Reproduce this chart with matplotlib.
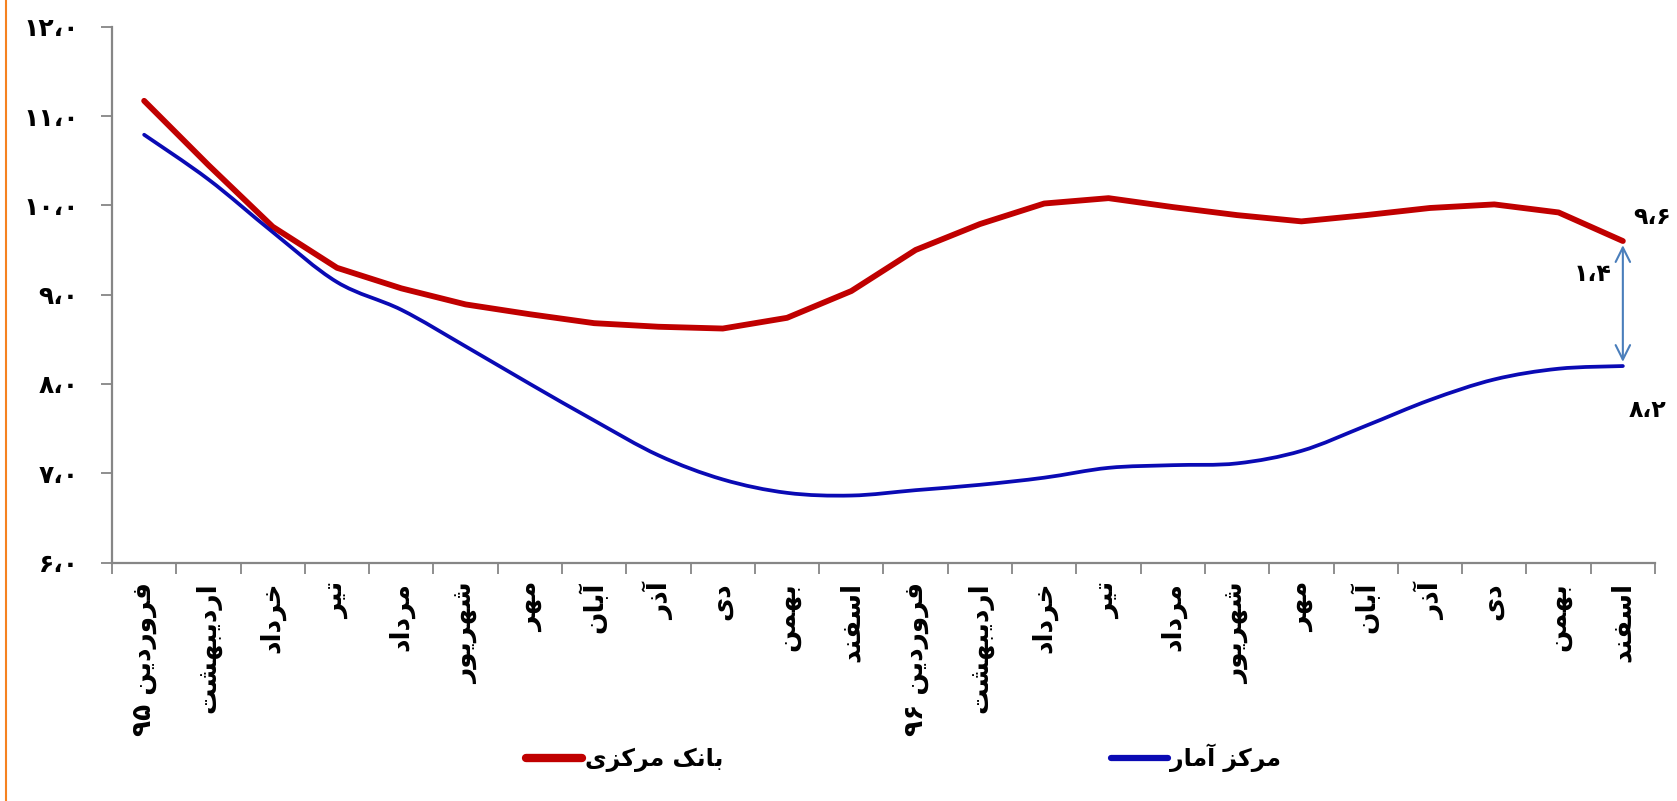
import re
import numpy as np
import matplotlib
matplotlib.use("Agg")
import matplotlib.pyplot as plt
from matplotlib.path import Path
from matplotlib.patches import PathPatch
from matplotlib.lines import Line2D

# data
months = ["فروردین ۹۵", "اردیبهشت", "خرداد", "تیر", "مرداد", "شهریور", "مهر",
          "آبان", "آذر", "دی", "بهمن", "اسفند",
          "فروردین ۹۶", "اردیبهشت", "خرداد", "تیر", "مرداد", "شهریور", "مهر",
          "آبان", "آذر", "دی", "بهمن", "اسفند"]
central_bank = [11.17, 10.45, 9.76, 9.30, 9.07, 8.89, 8.78, 8.68, 8.64, 8.62, 8.74, 9.04,
                9.50, 9.79, 10.02, 10.08, 9.98, 9.89, 9.82, 9.89, 9.97, 10.01, 9.92, 9.60]
stat_center = [10.79, 10.29, 9.70, 9.14, 8.83, 8.42, 8.00, 7.59, 7.20, 6.93, 6.78, 6.75,
               6.81, 6.87, 6.95, 7.06, 7.09, 7.11, 7.25, 7.53, 7.82, 8.05, 8.17, 8.20]
series_names = ["بانک مرکزی", "مرکز آمار"]
gap_label = "۱،۴"

# minimal arabic shaping (matplotlib has no complex text layout)
FORMS = {
    'ا': ('\uFE8D', '\uFE8E', None, None),
    'آ': ('\uFE81', '\uFE82', None, None),
    'ب': ('\uFE8F', '\uFE90', '\uFE91', '\uFE92'),
    'ت': ('\uFE95', '\uFE96', '\uFE97', '\uFE98'),
    'خ': ('\uFEA5', '\uFEA6', '\uFEA7', '\uFEA8'),
    'د': ('\uFEA9', '\uFEAA', None, None),
    'ذ': ('\uFEAB', '\uFEAC', None, None),
    'ر': ('\uFEAD', '\uFEAE', None, None),
    'ز': ('\uFEAF', '\uFEB0', None, None),
    'س': ('\uFEB1', '\uFEB2', '\uFEB3', '\uFEB4'),
    'ش': ('\uFEB5', '\uFEB6', '\uFEB7', '\uFEB8'),
    'ف': ('\uFED1', '\uFED2', '\uFED3', '\uFED4'),
    'م': ('\uFEE1', '\uFEE2', '\uFEE3', '\uFEE4'),
    'ن': ('\uFEE5', '\uFEE6', '\uFEE7', '\uFEE8'),
    'ه': ('\uFEE9', '\uFEEA', '\uFEEB', '\uFEEC'),
    'و': ('\uFEED', '\uFEEE', None, None),
    'ی': ('\uFBFC', '\uFBFD', '\uFBFE', '\uFBFF'),
    'ک': ('\uFB8E', '\uFB8F', '\uFB90', '\uFB91'),
}
DIGITS = '\u06F0-\u06F9\u060C'


def fa(s):
    out = []
    for i, c in enumerate(s):
        if c not in FORMS:
            out.append(c)
            continue
        prev = s[i - 1] if i > 0 else None
        nxt = s[i + 1] if i < len(s) - 1 else None
        jp = prev in FORMS and FORMS[prev][2] is not None
        jn = nxt in FORMS and FORMS[c][2] is not None
        iso, fin, ini, med = FORMS[c]
        out.append(med if jp and jn else fin if jp else ini if jn else iso)
    tokens = re.findall('[' + DIGITS + ']+|[^' + DIGITS + ']+', ''.join(out))
    return ''.join(t if re.match('[' + DIGITS + ']', t) else t[::-1] for t in reversed(tokens))


def fa_num(v):
    s = "%.1f" % v
    return s.translate(str.maketrans("0123456789.", "۰۱۲۳۴۵۶۷۸۹،"))


plt.rcParams['font.family'] = ['DejaVu Sans']
plt.rcParams['font.weight'] = 'bold'

fig = plt.figure(figsize=(16.77, 8.01), dpi=100)
ax = fig.add_axes([112 / 1677, 1 - 562.5 / 801, (1655 - 112) / 1677, (562.5 - 26.7) / 801])

red = '#C00000'
blue = '#0A0AB4'
gray = '#868686'
x = np.arange(len(months))

ax.plot(x, central_bank, color=red, lw=4.2, solid_capstyle='round', solid_joinstyle='round', zorder=3)

# smoothed line for the second series (bezier through the points)
pts = np.column_stack([x, stat_center]).astype(float)
verts = [pts[0]]
codes = [Path.MOVETO]
for i in range(len(pts) - 1):
    p0 = pts[max(i - 1, 0)]
    p1 = pts[i]
    p2 = pts[i + 1]
    p3 = pts[min(i + 2, len(pts) - 1)]
    verts += [p1 + (p2 - p0) / 6, p2 - (p3 - p1) / 6, p2]
    codes += [Path.CURVE4] * 3
ax.add_patch(PathPatch(Path(verts, codes), fill=False, edgecolor=blue, lw=2.7,
                       capstyle='round', joinstyle='round', zorder=3))

ax.set_xlim(-0.5, len(months) - 0.5)
ax.set_ylim(6, 12)
ax.set_yticks(np.arange(6, 12.5, 1))
ax.set_yticklabels([fa_num(v) for v in np.arange(6, 12.5, 1)], fontsize=18, fontweight='bold')
ax.set_xticks(np.arange(-0.5, len(months), 1))
ax.set_xticklabels([])
ax.set_xticks(x, minor=True)
ax.set_xticklabels([fa(m) for m in months], minor=True, rotation=90, fontsize=19,
                   fontweight='bold', va='top', ha='center')
ax.tick_params(axis='x', which='minor', length=0, pad=14)
ax.tick_params(axis='both', which='major', length=8, width=1.3, color=gray, direction='out')
ax.tick_params(axis='y', pad=16)
for side in ['top', 'right']:
    ax.spines[side].set_visible(False)
for side in ['left', 'bottom']:
    ax.spines[side].set_color(gray)
    ax.spines[side].set_linewidth(1.6)

# gap annotation at the last month
last = len(months) - 1
ax.annotate('', xy=(last, central_bank[-1]), xytext=(last, stat_center[-1]),
            arrowprops=dict(arrowstyle='<->', color='#4A7EBB', lw=1.5,
                            shrinkA=3, shrinkB=3, mutation_scale=26))
ax.annotate(fa_num(central_bank[-1]), xy=(last, central_bank[-1]), xytext=(21, 17),
            textcoords='offset points', ha='center', va='center', fontsize=17, fontweight='bold')
ax.annotate(fa_num(stat_center[-1]), xy=(last, stat_center[-1]), xytext=(18, -32),
            textcoords='offset points', ha='center', va='center', fontsize=17, fontweight='bold')
ax.annotate(gap_label, xy=(last, (central_bank[-1] + stat_center[-1]) / 2), xytext=(-22, 21),
            textcoords='offset points', ha='center', va='center', fontsize=17, fontweight='bold')

handles = [Line2D([], [], color=red, lw=6, solid_capstyle='round'),
           Line2D([], [], color=blue, lw=4.5, solid_capstyle='round')]
fig.legend(handles, [fa(n) for n in series_names], loc='center', ncol=2,
           bbox_to_anchor=(0.5388, 0.054), frameon=False,
           handlelength=2.4, handletextpad=0.12, columnspacing=16.4,
           prop={'weight': 'bold', 'size': 17})

fig.add_artist(Line2D([6 / 1677, 6 / 1677], [0, 1], transform=fig.transFigure,
                      color='#F58220', lw=1.5))

fig.savefig('out.png', dpi=100)
